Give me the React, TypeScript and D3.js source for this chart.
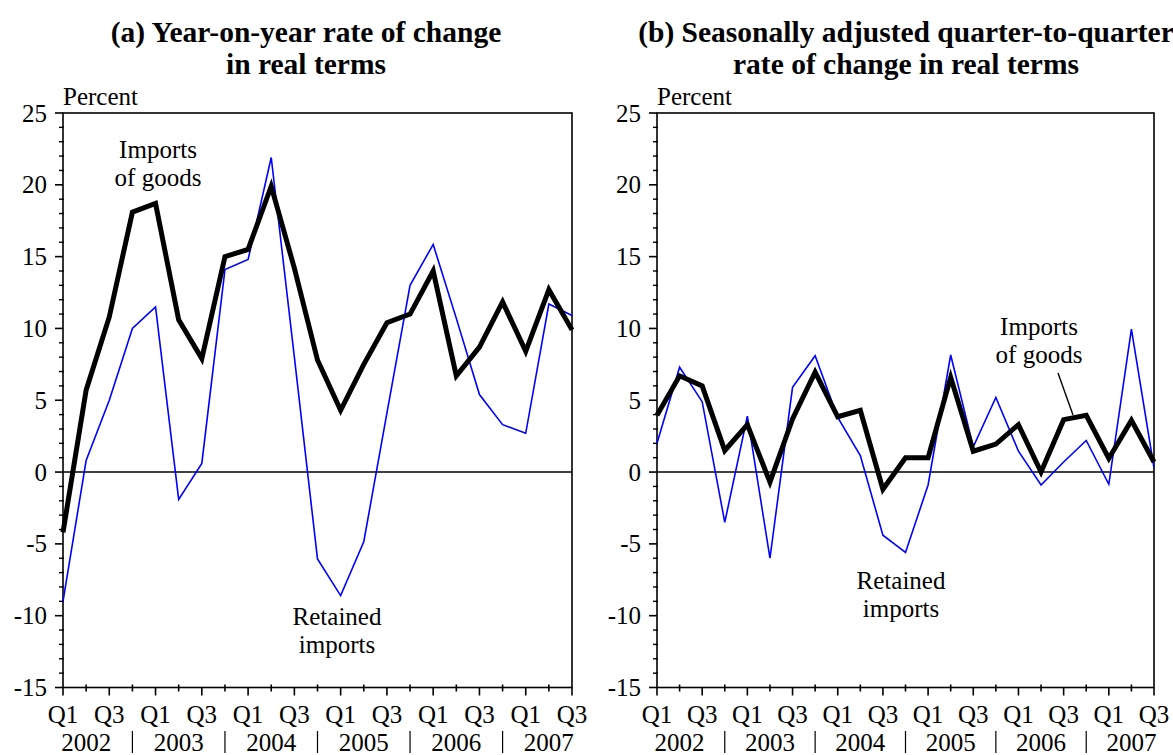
import React from "react";
import * as d3 from "d3";

const quarters = [
  "2002Q1","2002Q2","2002Q3","2002Q4","2003Q1","2003Q2","2003Q3","2003Q4",
  "2004Q1","2004Q2","2004Q3","2004Q4","2005Q1","2005Q2","2005Q3","2005Q4",
  "2006Q1","2006Q2","2006Q3","2006Q4","2007Q1","2007Q2","2007Q3",
];
const years = ["2002", "2003", "2004", "2005", "2006", "2007"];
const yTicks = [25, 20, 15, 10, 5, 0, -5, -10, -15];

// (a) Year-on-year rate of change
const yoyImports = [
  -4.2, 5.7, 10.8, 18.1, 18.7, 10.6, 7.9, 15.0, 15.5, 19.9, 14.2, 7.8,
  4.3, 7.5, 10.4, 11.0, 14.0, 6.7, 8.7, 11.85, 8.4, 12.7, 9.9,
];
const yoyRetained = [
  -9.0, 0.8, 5.0, 10.0, 11.5, -1.9, 0.6, 14.1, 14.8, 21.9, 8.0, -6.05,
  -8.6, -4.85, 4.1, 13.0, 15.85, 10.7, 5.4, 3.3, 2.7, 11.7, 10.9,
];
// (b) Seasonally adjusted quarter-to-quarter
const qoqImports = [
  3.95, 6.7, 6.0, 1.5, 3.3, -0.7, 3.7, 6.95, 3.85, 4.3, -1.2, 1.0,
  1.0, 6.6, 1.45, 1.95, 3.3, 0.0, 3.65, 3.95, 0.95, 3.6, 0.7,
];
const qoqRetained = [
  2.0, 7.3, 4.9, -3.5, 3.9, -6.0, 5.9, 8.1, 3.8, 1.15, -4.4, -5.6,
  -0.9, 8.15, 1.75, 5.2, 1.45, -0.9, 0.7, 2.2, -0.85, 9.95, 0.3,
];

const FONT = "'Liberation Serif', 'Times New Roman', serif";

type Label = { lines: string[]; x: number; y: number };
type PanelProps = {
  x0: number;
  x1: number;
  imports: number[];
  retained: number[];
  title: string[];
  titleX: number;
  importsLabel: Label;
  retainedLabel: Label;
  leader?: [number, number, number, number];
};

const Y_TOP = 113;
const Y_BOTTOM = 687.5;

function Panel(p: PanelProps) {
  const x = d3.scaleLinear().domain([0, quarters.length - 1]).range([p.x0, p.x1]);
  const y = d3.scaleLinear().domain([-15, 25]).range([Y_BOTTOM, Y_TOP]);
  const line = d3
    .line<number>()
    .x((_, i) => x(i))
    .y((d) => y(d));
  const minor = d3.range(-15, 26, 1).filter((v) => v % 5 !== 0);
  return (
    <g fontFamily={FONT}>
      {p.title.map((t, i) => (
        <text key={i} x={p.titleX} y={42 + i * 32} textAnchor="middle" fontSize={29.5} fontWeight="bold">
          {t}
        </text>
      ))}
      <text x={p.x0} y={105} fontSize={25}>Percent</text>
      {/* frame */}
      <rect x={p.x0} y={Y_TOP} width={p.x1 - p.x0} height={Y_BOTTOM - Y_TOP} fill="none" stroke="#000" strokeWidth={1.6} />
      {/* zero line */}
      <line x1={p.x0} x2={p.x1} y1={y(0)} y2={y(0)} stroke="#000" strokeWidth={1.5} />
      {/* y ticks */}
      {yTicks.map((v) => (
        <g key={v}>
          <line x1={p.x0 - 8} x2={p.x0} y1={y(v)} y2={y(v)} stroke="#000" strokeWidth={1.6} />
          <text x={p.x0 - 16} y={y(v) + 8.5} textAnchor="end" fontSize={25}>{v}</text>
        </g>
      ))}
      {minor.map((v) => (
        <line key={v} x1={p.x0 - 4} x2={p.x0 + 1} y1={y(v)} y2={y(v)} stroke="#000" strokeWidth={1.4} />
      ))}
      {/* x ticks */}
      {quarters.map((q, i) => {
        const major = i % 2 === 0;
        return (
          <g key={q}>
            <line
              x1={x(i)} x2={x(i)}
              y1={major ? Y_BOTTOM : Y_BOTTOM - 3}
              y2={major ? Y_BOTTOM + 8 : Y_BOTTOM + 4}
              stroke="#000" strokeWidth={1.6}
            />
            {major && (
              <text x={x(i)} y={723} textAnchor="middle" fontSize={25}>
                {i % 4 === 0 ? "Q1" : "Q3"}
              </text>
            )}
          </g>
        );
      })}
      {years.map((yr, k) => (
        <g key={yr}>
          <text x={x(1 + 4 * k)} y={751} textAnchor="middle" fontSize={25}>{yr}</text>
          {k < years.length - 1 && (
            <line x1={x(3 + 4 * k)} x2={x(3 + 4 * k)} y1={731} y2={753} stroke="#000" strokeWidth={1.2} />
          )}
        </g>
      ))}
      {/* series */}
      <path d={line(p.retained) || ""} fill="none" stroke="#0000ff" strokeWidth={1.6} strokeLinejoin="miter" />
      <path d={line(p.imports) || ""} fill="none" stroke="#000" strokeWidth={5} strokeLinejoin="miter" />
      {/* annotations */}
      {[p.importsLabel, p.retainedLabel].map((lab, j) =>
        lab.lines.map((t, i) => (
          <text key={`${j}-${i}`} x={lab.x} y={lab.y + i * 28} textAnchor="middle" fontSize={25}>{t}</text>
        ))
      )}
      {p.leader && (
        <line x1={p.leader[0]} y1={p.leader[1]} x2={p.leader[2]} y2={p.leader[3]} stroke="#000" strokeWidth={1.4} />
      )}
    </g>
  );
}

export default function App() {
  return (
    <svg width={1173} height={755} style={{ position: "absolute", left: 0, top: 0, background: "#fff" }}>
      <rect width={1173} height={755} fill="#fff" />
      <Panel
        x0={63}
        x1={572}
        imports={yoyImports}
        retained={yoyRetained}
        title={["(a) Year-on-year rate of change", "in real terms"]}
        titleX={306}
        importsLabel={{ lines: ["Imports", "of goods"], x: 158, y: 158 }}
        retainedLabel={{ lines: ["Retained", "imports"], x: 337, y: 625 }}
      />
      <Panel
        x0={657}
        x1={1154}
        imports={qoqImports}
        retained={qoqRetained}
        title={["(b) Seasonally adjusted quarter-to-quarter", "rate of change in real terms"]}
        titleX={906}
        importsLabel={{ lines: ["Imports", "of goods"], x: 1039, y: 335 }}
        retainedLabel={{ lines: ["Retained", "imports"], x: 901, y: 589 }}
        leader={[1058, 373, 1073, 415]}
      />
    </svg>
  );
}
